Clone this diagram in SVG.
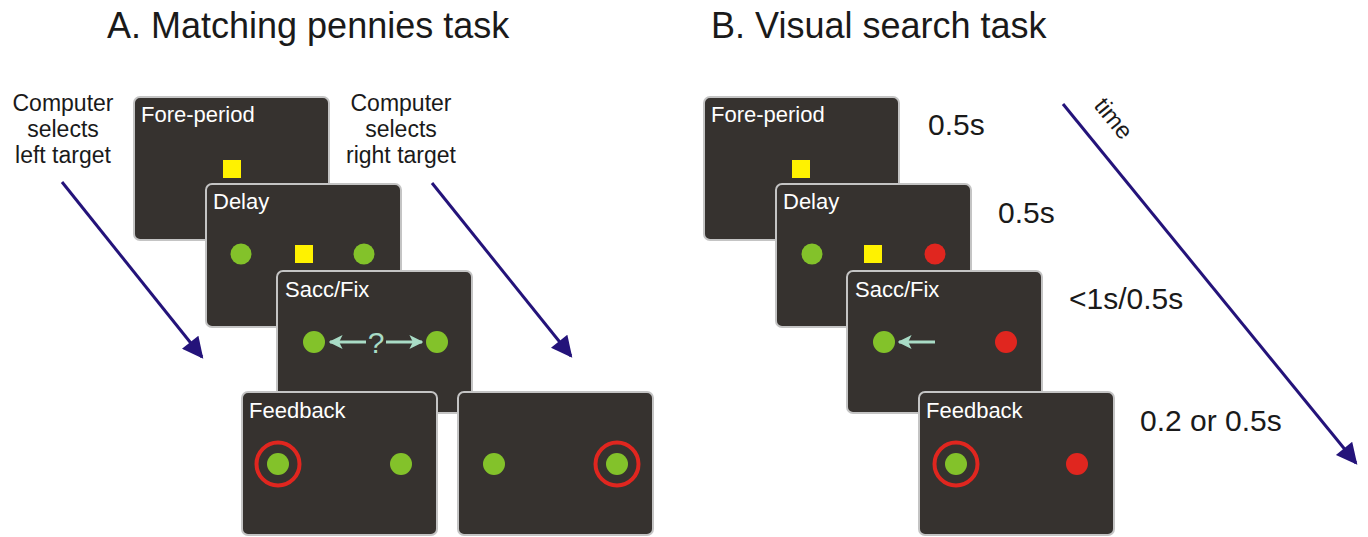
<svg xmlns="http://www.w3.org/2000/svg" width="1368" height="537" viewBox="0 0 1368 537">
  <style>
    .screen { fill: #36322f; stroke: #c4c4c4; stroke-width: 2; }
    .lbl { font-family: "Liberation Sans", Arial, sans-serif; font-size: 22px; fill: #ffffff; }
    .cap { font-family: "Liberation Sans", Arial, sans-serif; font-size: 23px; fill: #1a1a1a; text-anchor: middle; }
    .title { font-family: "Liberation Sans", Arial, sans-serif; font-size: 36px; fill: #1a1a1a; }
    .dur { font-family: "Liberation Sans", Arial, sans-serif; font-size: 30px; fill: #1a1a1a; }
    .green { fill: #83c22a; }
    .red { fill: #e0261f; }
    .yellow { fill: #fff200; }
    .ring { fill: none; stroke: #e0261f; stroke-width: 4; }
    .sacc { stroke: #a9dcc6; stroke-width: 2.8; fill: none; }
    .flow { stroke: #24137a; stroke-width: 3; fill: none; }
  </style>
  <defs>
    <marker id="navyHead" viewBox="0 0 10 10" refX="9" refY="5" markerWidth="8.5" markerHeight="7" markerUnits="strokeWidth" orient="auto">
      <path d="M0,0 L10,5 L0,10 Z" fill="#24137a"/>
    </marker>
    <marker id="mintHead" viewBox="0 0 10 10" refX="9" refY="5" markerWidth="5" markerHeight="5" markerUnits="strokeWidth" orient="auto">
      <path d="M0,0 L10,5 L0,10 L2.5,5 Z" fill="#a9dcc6"/>
    </marker>
  </defs>

  <!-- Titles -->
  <text class="title" x="107" y="38">A. Matching pennies task</text>
  <text class="title" x="711" y="38">B. Visual search task</text>

  <!-- Captions, panel A -->
  <g id="cap-left">
    <text class="cap" x="63" y="111">Computer</text>
    <text class="cap" x="63" y="137">selects</text>
    <text class="cap" x="63" y="163">left target</text>
  </g>
  <g id="cap-right">
    <text class="cap" x="401" y="111">Computer</text>
    <text class="cap" x="401" y="137">selects</text>
    <text class="cap" x="401" y="163">right target</text>
  </g>

  <!-- Panel A screens -->
  <g id="a-foreperiod">
    <rect class="screen" x="134" y="97" width="195" height="143" rx="6"/>
    <text class="lbl" x="141" y="122">Fore-period</text>
    <rect class="yellow" x="223" y="160" width="18" height="18"/>
  </g>
  <g id="a-delay">
    <rect class="screen" x="206" y="184" width="195" height="143" rx="6"/>
    <text class="lbl" x="213" y="209">Delay</text>
    <circle class="green" cx="241" cy="254" r="10.5"/>
    <rect class="yellow" x="295" y="245" width="18" height="18"/>
    <circle class="green" cx="364" cy="254" r="10.5"/>
  </g>
  <g id="a-saccfix">
    <rect class="screen" x="277" y="271" width="195" height="142" rx="6"/>
    <text class="lbl" x="285" y="297">Sacc/Fix</text>
    <circle class="green" cx="314" cy="342" r="11"/>
    <circle class="green" cx="437" cy="342" r="11"/>
    <line class="sacc" x1="366" y1="342" x2="330" y2="342" marker-end="url(#mintHead)"/>
    <line class="sacc" x1="386" y1="342" x2="422" y2="342" marker-end="url(#mintHead)"/>
    <text x="376" y="353" text-anchor="middle" font-family="Liberation Sans, Arial, sans-serif" font-size="30" fill="#a9dcc6">?</text>
  </g>
  <g id="a-feedback-left">
    <rect class="screen" x="242" y="392" width="195" height="143" rx="6"/>
    <text class="lbl" x="249" y="418">Feedback</text>
    <circle class="ring" cx="278" cy="464" r="21.5"/>
    <circle class="green" cx="278" cy="464" r="11"/>
    <circle class="green" cx="401" cy="464" r="11"/>
  </g>
  <g id="a-feedback-right">
    <rect class="screen" x="458" y="392" width="195" height="143" rx="6"/>
    <circle class="green" cx="494" cy="464" r="11"/>
    <circle class="ring" cx="617" cy="464" r="21.5"/>
    <circle class="green" cx="617" cy="464" r="11"/>
  </g>

  <!-- Panel B screens -->
  <g id="b-foreperiod">
    <rect class="screen" x="704" y="97" width="195" height="143" rx="6"/>
    <text class="lbl" x="711" y="122">Fore-period</text>
    <rect class="yellow" x="792" y="160" width="18" height="18"/>
  </g>
  <g id="b-delay">
    <rect class="screen" x="776" y="184" width="195" height="143" rx="6"/>
    <text class="lbl" x="783" y="209">Delay</text>
    <circle class="green" cx="812" cy="254" r="10.5"/>
    <rect class="yellow" x="864" y="245" width="18" height="18"/>
    <circle class="red" cx="935" cy="254" r="10.5"/>
  </g>
  <g id="b-saccfix">
    <rect class="screen" x="847" y="271" width="195" height="142" rx="6"/>
    <text class="lbl" x="855" y="297">Sacc/Fix</text>
    <circle class="green" cx="884" cy="342" r="11"/>
    <line class="sacc" x1="935" y1="342" x2="899" y2="342" marker-end="url(#mintHead)"/>
    <circle class="red" cx="1006" cy="342" r="11"/>
  </g>
  <g id="b-feedback">
    <rect class="screen" x="919" y="392" width="195" height="143" rx="6"/>
    <text class="lbl" x="926" y="418">Feedback</text>
    <circle class="ring" cx="956" cy="464" r="21.5"/>
    <circle class="green" cx="956" cy="464" r="11"/>
    <circle class="red" cx="1077" cy="464" r="11"/>
  </g>

  <!-- Durations -->
  <g id="durations">
    <text class="dur" x="928" y="135">0.5s</text>
    <text class="dur" x="998" y="223">0.5s</text>
    <text class="dur" x="1069" y="309">&lt;1s/0.5s</text>
    <text class="dur" x="1140" y="431">0.2 or 0.5s</text>
  </g>

  <!-- Connectors -->
  <g id="connectors">
    <line class="flow" x1="62" y1="182" x2="202" y2="357" marker-end="url(#navyHead)"/>
    <line class="flow" x1="432" y1="183" x2="571" y2="356" marker-end="url(#navyHead)"/>
    <line class="flow" x1="1063" y1="104" x2="1356" y2="463" marker-end="url(#navyHead)"/>
    <text x="1093" y="106" transform="rotate(51 1093 106)" font-family="Liberation Sans, Arial, sans-serif" font-size="24" fill="#1a1a1a">time</text>
  </g>
</svg>
